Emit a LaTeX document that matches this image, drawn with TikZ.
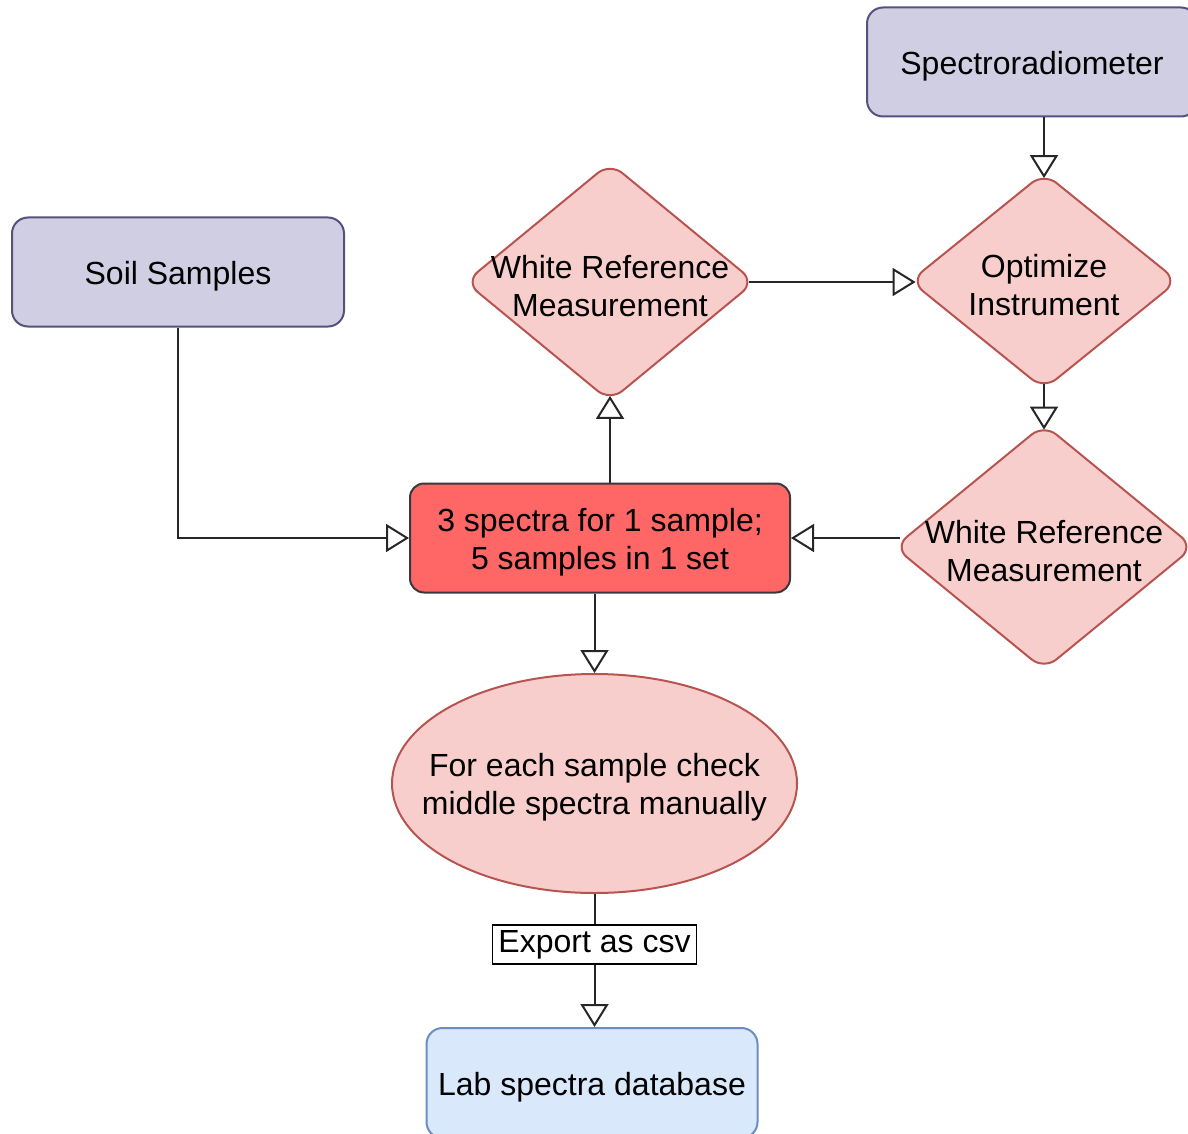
\documentclass[tikz,border=0pt]{standalone}
\usepackage{fontspec}
\setmainfont{Liberation Sans}
\usetikzlibrary{arrows.meta,shapes.geometric}

\definecolor{purplefill}{HTML}{D0CEE2}
\definecolor{purpleline}{HTML}{56517E}
\definecolor{pinkfill}{HTML}{F8CECC}
\definecolor{pinkline}{HTML}{B85450}
\definecolor{redfill}{HTML}{FF6666}
\definecolor{redline}{HTML}{36393D}
\definecolor{bluefill}{HTML}{DAE8FC}
\definecolor{blueline}{HTML}{6C8EBF}

\tikzset{
  every node/.style={font=\fontsize{16}{19}\selectfont, align=center},
  txt/.style={label={[yshift=-2pt]center:{#1}}},
  source/.style={draw=purpleline, fill=purplefill, line width=1pt, rounded corners=8pt,
    minimum width=166pt, minimum height=54.5pt},
  decision/.style={diamond, draw=pinkline, fill=pinkfill, line width=1pt, rounded corners=8pt,
    inner sep=0pt},
  process/.style={draw=redline, fill=redfill, line width=1pt, rounded corners=7pt,
    minimum width=190pt, minimum height=54.5pt},
  check/.style={ellipse, draw=pinkline, fill=pinkfill, line width=1pt, inner sep=0pt,
    minimum width=202.5pt, minimum height=109.5pt},
  store/.style={draw=blueline, fill=bluefill, line width=1pt, rounded corners=8pt,
    minimum width=165.5pt, minimum height=55pt},
  exportlbl/.style={draw=black, fill=white, line width=0.8pt, inner sep=0pt,
    minimum width=102pt, minimum height=19.5pt},
  flow/.style={->, line width=1pt, draw=black!85},
  intov/.style={shorten >=-3.3pt},
  fromv/.style={shorten <=-3.3pt}
}

\begin{document}
\begin{tikzpicture}[x=0.5pt, y=-0.5pt, >={Triangle[open, length=11.5pt, width=14pt]}]
\clip (0,0) rectangle (1188,1134);
\useasboundingbox (0,0) rectangle (1188,1134);

% sources
\node[source, minimum width=165pt, txt=Spectroradiometer] (spec) at (1032,62) {};
\node[source, txt=Soil Samples] (soil) at (178,272) {};

% decisions
\node[decision, minimum width=145pt, minimum height=119.5pt,
  txt=White Reference\\Measurement] (wrone) at (610,282) {};
\node[decision, minimum width=134pt, minimum height=108.5pt,
  txt=Optimize\\Instrument] (opt) at (1044,281) {};
\node[decision, minimum width=150pt, minimum height=123pt,
  txt=White Reference\\Measurement] (wrtwo) at (1044,547) {};

% measuring, checking, storing
\node[process, txt=3 spectra for 1 sample;\\5 samples in 1 set] (spectra) at (600,538) {};
\node[check, txt=For each sample check\\middle spectra manually] (ell) at (594.5,783.5) {};
\node[store, txt=Lab spectra database] (lab) at (592,1083) {};

% connectors
\draw[flow, intov] (opt.north |- spec.south) -- (opt.north);
\draw[flow, intov, fromv] (wrone.east) -- (opt.west |- wrone.east);
\draw[flow, intov, fromv] (opt.south) -- (wrtwo.north);
\draw[flow, fromv] (wrtwo.west |- spectra.east) -- (spectra.east);
\draw[flow] (soil.south) |- (spectra.west);
\draw[flow, intov] (spectra.north -| wrone.south) -- (wrone.south);
\draw[flow] (spectra.south -| ell.south) -- (ell.north);
\draw[flow] (ell.south) -- node[exportlbl, pos=0.38] (export) {Export as csv} (ell.south |- lab.north);
\end{tikzpicture}
\end{document}
